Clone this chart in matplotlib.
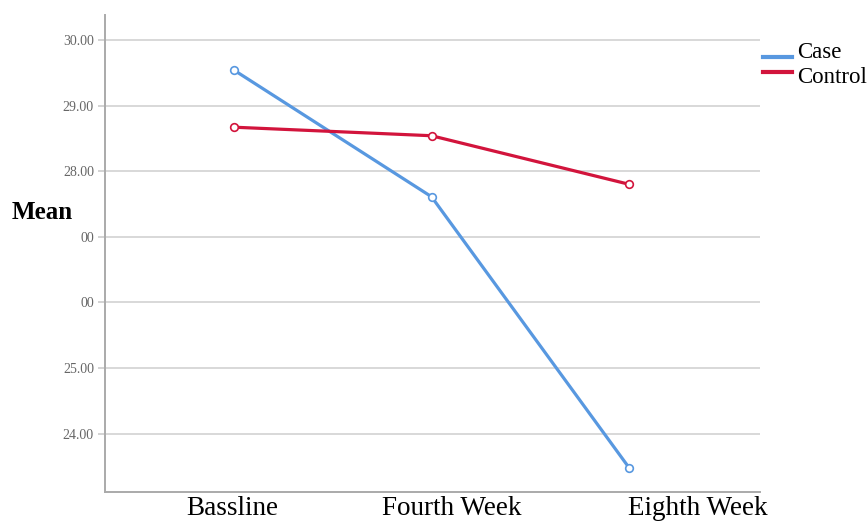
import matplotlib
matplotlib.use("Agg")
import matplotlib.pyplot as plt
from matplotlib.lines import Line2D

categories = ["Bassline", "Fourth Week", "Eighth Week"]
case_vals = [29.54, 27.61, 23.48]
control_vals = [28.67, 28.54, 27.80]
ytick_vals = [24, 25, 26, 27, 28, 29, 30]
ytick_labels = ["24.00", "25.00", "00", "00", "28.00", "29.00", "30.00"]
series_names = ["Case", "Control"]

# layout: horizontal centres of category labels (data units) as drawn in the original
label_pos = [-0.01, 1.10, 2.35]

fig = plt.figure(figsize=(8.67, 5.23), dpi=100)
ax = fig.add_axes([0.1211, 0.0593, 0.7555, 0.912])

x = list(range(len(categories)))
blue = "#5898e0"
red = "#d2143c"
colors = [blue, red]
for vals, c, name in zip([case_vals, control_vals], colors, series_names):
    ax.plot(x, vals, color=c, lw=2.3, marker="o", ms=5.5, mfc="white",
            mec=c, mew=1.2, label=name, zorder=3)

ax.set_xlim(-0.653, 2.663)
ax.set_ylim(23.11, 30.38)
ax.set_yticks(ytick_vals)
ax.set_yticklabels(ytick_labels, fontsize=10, color="#666666",
                   family="Liberation Serif")
ax.set_xticks(x)
ax.set_xticklabels([])
ax.tick_params(axis="x", length=0)
for p, lab in zip(label_pos, categories):
    ax.text(p, -4 / 477, lab, transform=ax.get_xaxis_transform(),
            ha="center", va="top", fontsize=19.5, family="Liberation Serif",
            clip_on=False)
ax.tick_params(axis="y", length=5, color="#cccccc", width=1.2, pad=3)
ax.grid(axis="y", color="#d8d8d8", lw=1.4)
ax.set_axisbelow(True)
for s in ["top", "right"]:
    ax.spines[s].set_visible(False)
for s in ["left", "bottom"]:
    ax.spines[s].set_color("#aaaaaa")
    ax.spines[s].set_linewidth(1.4)

fig.text(12 / 867, 1 - 213 / 523, "Mean", fontsize=18, fontweight="bold",
         family="Liberation Serif", va="center", ha="left")

# legend drawn manually to match original layout
W, H = 867, 523
handle_y = [57, 72]
text_base = [58, 83]
for name, c, hy, ty in zip(series_names, colors, handle_y, text_base):
    fig.add_artist(Line2D([763 / W, 792 / W], [1 - hy / H, 1 - hy / H],
                          color=c, lw=3, transform=fig.transFigure))
    fig.text(797 / W, 1 - ty / H, name, fontsize=16.5, family="Liberation Serif",
             ha="left", va="baseline")

fig.savefig("out.png", dpi=100)
